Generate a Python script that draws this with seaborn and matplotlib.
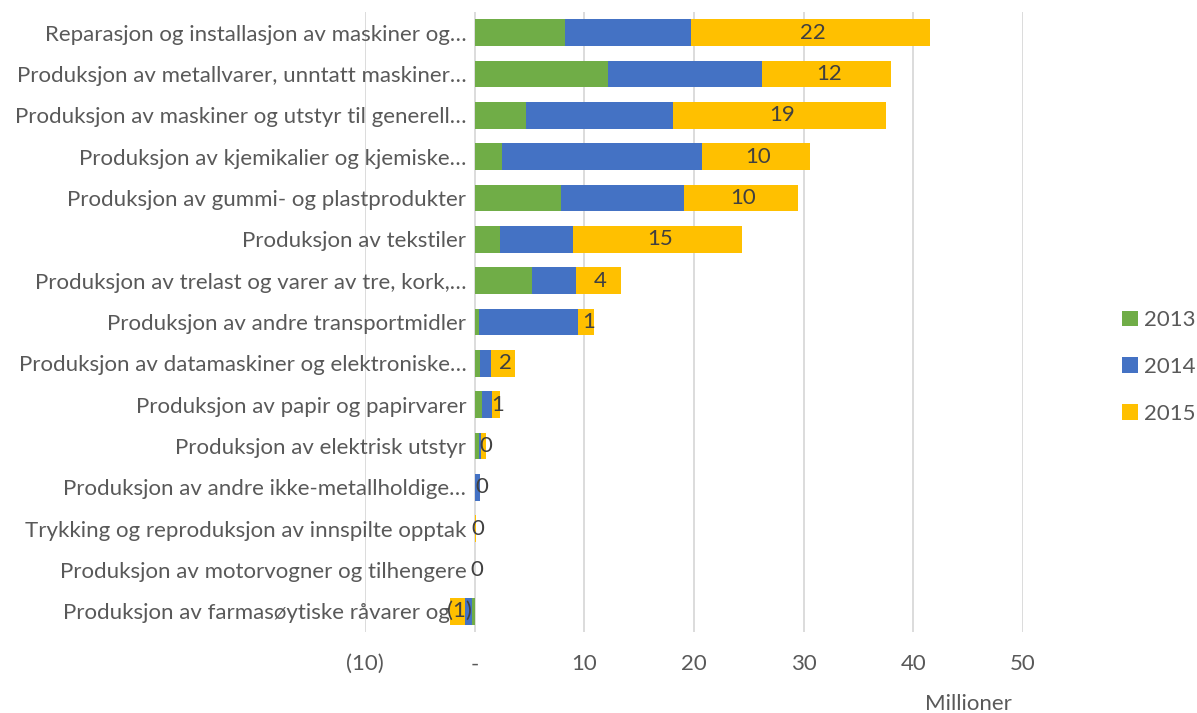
import matplotlib
matplotlib.use("Agg")
import matplotlib.pyplot as plt
import numpy as np
import seaborn as sns

# %%
categories = [
    "Reparasjon og installasjon av maskiner og…",
    "Produksjon av metallvarer, unntatt maskiner…",
    "Produksjon av maskiner og utstyr til generell…",
    "Produksjon av kjemikalier og kjemiske…",
    "Produksjon av gummi- og plastprodukter",
    "Produksjon av tekstiler",
    "Produksjon av trelast og varer av tre, kork,…",
    "Produksjon av andre transportmidler",
    "Produksjon av datamaskiner og elektroniske…",
    "Produksjon av papir og papirvarer",
    "Produksjon av elektrisk utstyr",
    "Produksjon av andre ikke-metallholdige…",
    "Trykking og reproduksjon av innspilte opptak",
    "Produksjon av motorvogner og tilhengere",
    "Produksjon av farmasøytiske råvarer og…",
]
v2013 = [8.2, 12.2, 4.7, 2.5, 7.9, 2.3, 5.2, 0.35, 0.5, 0.7, 0.4, 0.05, 0.0, 0.0, -0.2]
v2014 = [11.5, 14.0, 13.4, 18.2, 11.2, 6.7, 4.0, 9.1, 1.0, 0.85, 0.2, 0.4, 0.0, 0.0, -0.65]
v2015 = [21.8, 11.8, 19.4, 9.9, 10.4, 15.4, 4.1, 1.4, 2.2, 0.75, 0.4, 0.05, 0.1, 0.0, -1.4]
years = ["2013", "2014", "2015"]
colors = ["#70AD47", "#4472C4", "#FFC000"]
xticks = [-10, 0, 10, 20, 30, 40, 50]
xticklabels = ["(10)", "-", "10", "20", "30", "40", "50"]

# %%
sns.set_theme(style="white")
plt.rcParams["font.family"] = ["Lato", "DejaVu Sans"]
txt = "#595959"
fs = 16

c1 = np.array(v2013)
c2 = c1 + np.array(v2014)
c3 = c2 + np.array(v2015)

fig = plt.figure(figsize=(11.97, 7.13), dpi=100)
ax = fig.add_axes([365 / 1197, 1 - 632 / 713, (1023 - 365) / 1197, (632 - 12) / 713])

# stacked look: draw cumulative totals back to front
for cum, col, yr in [(c3, colors[2], years[2]), (c2, colors[1], years[1]), (c1, colors[0], years[0])]:
    sns.barplot(x=cum, y=categories, color=col, orient="h", width=0.65,
                label=yr, ax=ax, saturation=1, linewidth=0)

for i, (lo, hi, v) in enumerate(zip(c2, c3, v2015)):
    r = int(round(abs(v)))
    s = f"({r})" if v < 0 and r != 0 else str(r)
    ax.text((lo + hi) / 2 + 0.2, i, s, ha="center", va="center", fontsize=fs, color="#404040")

ax.set_xlim(-10, 50)
ax.set_xticks(xticks)
ax.set_xticklabels(xticklabels)
ax.set_ylim(14.5, -0.5)
ax.grid(axis="x", color="#d9d9d9", linewidth=1.3)
ax.set_axisbelow(True)
for sp in ax.spines.values():
    sp.set_visible(False)
ax.spines["left"].set_position(("data", 0))
ax.tick_params(axis="y", length=0, pad=6, labelsize=fs, labelcolor=txt)
ax.tick_params(axis="x", length=0, pad=16, labelsize=fs, labelcolor=txt)
ax.set_ylabel("")
ax.set_xlabel("Millioner", fontsize=fs, color=txt)
ax.xaxis.set_label_coords((968 - 365) / (1023 - 365), -0.1)

h, l = ax.get_legend_handles_labels()
ax.legend(h[::-1], l[::-1], loc="center left", bbox_to_anchor=(1122 / 1197, 1 - 367 / 713),
          bbox_transform=fig.transFigure, frameon=False, fontsize=fs, labelcolor=txt,
          handlelength=0.7, handleheight=0.7, handletextpad=0.3, labelspacing=1.2,
          borderpad=0, borderaxespad=0)

plt.savefig("out.png", dpi=100)
